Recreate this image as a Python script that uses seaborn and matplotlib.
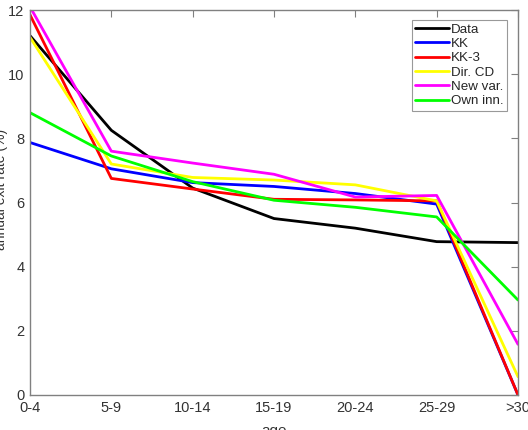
import numpy as np
import pandas as pd
import seaborn as sns
import matplotlib.pyplot as plt

AGES = ["0-4", "5-9", "10-14", "15-19", "20-24", "25-29", ">30"]
SERIES = ["Data", "KK", "KK-3", "Dir. CD", "New var.", "Own inn."]

data_rate = [11.2, 8.25, 6.45, 5.5, 5.2, 4.78, 4.75]
kk_rate = [7.87, 7.05, 6.62, 6.5, 6.28, 5.95, 0.0]
kk3_rate = [11.85, 6.75, 6.42, 6.1, 6.08, 6.05, 0.0]
dircd_rate = [11.15, 7.2, 6.78, 6.7, 6.55, 6.05, 0.57]
newvar_rate = [12.1, 7.6, 7.23, 6.88, 6.17, 6.22, 1.58]
ownin_rate = [8.8, 7.45, 6.65, 6.07, 5.85, 5.55, 2.96]

COLORS = {"Data": "#000000", "KK": "#0000ff", "KK-3": "#ff0000",
          "Dir. CD": "#ffff00", "New var.": "#ff00ff", "Own inn.": "#00ff00"}

rows = []
for name, vals in zip(SERIES, [data_rate, kk_rate, kk3_rate, dircd_rate, newvar_rate, ownin_rate]):
    for i, v in enumerate(vals):
        rows.append({"pos": i, "age": AGES[i], "rate": v, "series": name})
df = pd.DataFrame(rows)

sns.set_style("white")
plt.rcParams['font.family'] = ['Liberation Sans', 'DejaVu Sans']

fig = plt.figure(figsize=(5.28, 4.3), dpi=100)
ax = fig.add_axes([30 / 528, 1 - 395 / 430, 488 / 528, 385 / 430])

sns.lineplot(data=df, x="pos", y="rate", hue="series", hue_order=SERIES,
             palette=COLORS, linewidth=2, ax=ax, sort=False)

ax.set_xlim(0, 6)
ax.set_ylim(0, 12)
ax.set_xticks(range(len(AGES)))
ax.set_xticklabels(AGES)
ax.set_yticks([0, 2, 4, 6, 8, 10, 12])

gray = "#808080"
for s in ax.spines.values():
    s.set_color(gray)
    s.set_linewidth(1)
    s.set_visible(True)
ax.tick_params(direction="in", top=True, right=True, length=5, width=0.8,
               color=gray, labelcolor="#333333", labelsize=10.5, pad=4)
ax.tick_params(labelright=False, labeltop=False)

ax.set_xlabel("age", fontsize=11, color="#333333")
ax.set_ylabel("annual exit rate (%)", fontsize=10, color="#333333")
ax.xaxis.set_label_coords(0.5, -0.075)
ax.yaxis.set_label_coords(-0.046, 0.535)

leg = ax.legend(loc="upper right", bbox_to_anchor=(0.977, 0.974), frameon=True,
                fancybox=False, fontsize=9.6, handlelength=2.5, handletextpad=0.15,
                labelspacing=0.15, borderpad=0.25, borderaxespad=0)
leg.get_frame().set_edgecolor(gray)
leg.get_frame().set_linewidth(0.8)
for h in leg.get_lines():
    h.set_linewidth(2)

fig.savefig("out.png", dpi=100)
